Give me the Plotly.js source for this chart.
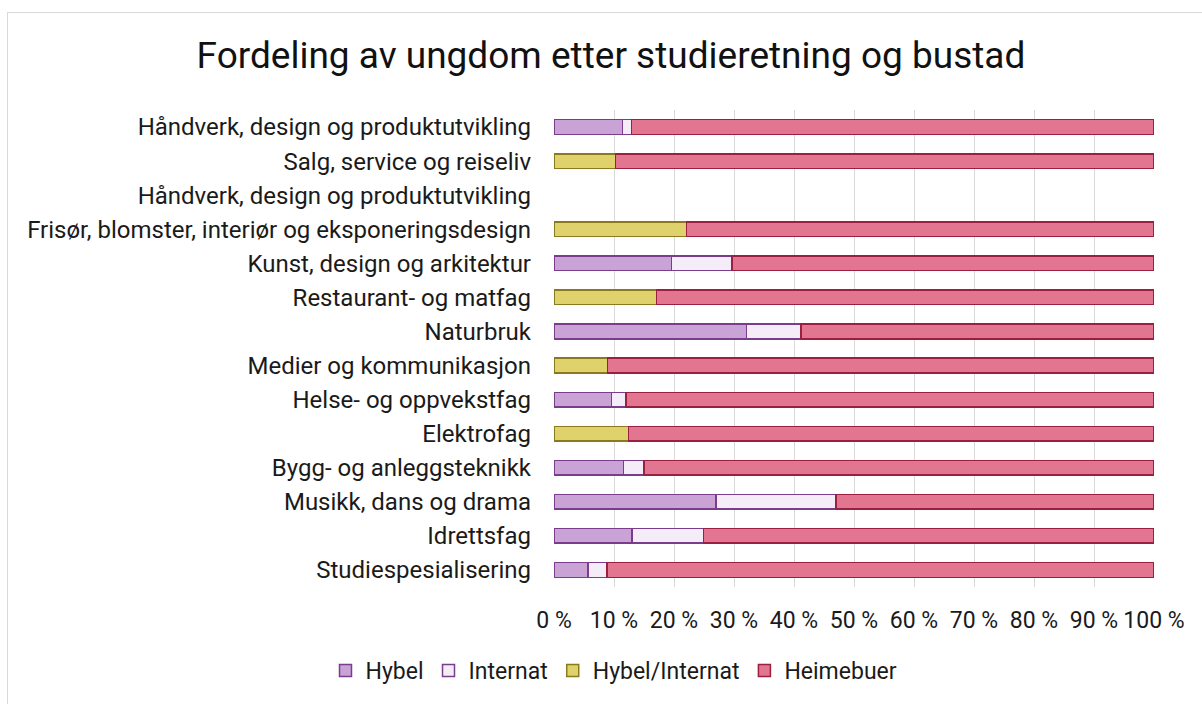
<!DOCTYPE html>
<html>
<head>
<meta charset="utf-8">
<script src="https://cdn.plot.ly/plotly-3.0.1.min.js"></script>
<style>
  html, body { margin: 0; padding: 0; background: #fff; overflow: hidden; width: 1202px; height: 704px; }
  #frame { position: absolute; left: 7px; top: 12px; width: 1300px; height: 800px; border: 1px solid #d9d9d9; background: #fff; }
  #chart { position: absolute; left: 0; top: 0; width: 1194px; height: 691px; }
</style>
</head>
<body>
<div id="frame"><div id="chart"></div></div>
<script>
// Categories, listed bottom to top
const categories = [
  "Studiespesialisering",
  "Idrettsfag",
  "Musikk, dans og drama",
  "Bygg- og anleggsteknikk",
  "Elektrofag",
  "Helse- og oppvekstfag",
  "Medier og kommunikasjon",
  "Naturbruk",
  "Restaurant- og matfag",
  "Kunst, design og arkitektur",
  "Frisør, blomster, interiør og eksponeringsdesign",
  "Håndverk, design og produktutvikling",
  "Salg, service og reiseliv",
  "Håndverk, design og produktutvikling"
];
const hybel          = [5.7, 13.0, 27.0, 11.6, null, 9.6, null, 32.1, null, 19.6, null, null, null, 11.4];
const internat       = [3.1, 11.9, 20.0, 3.4, null, 2.4, null, 9.1, null, 10.1, null, null, null, 1.5];
const hybelInternat  = [null, null, null, null, 12.4, null, 8.9, null, 17.1, null, 22.1, null, 10.25, null];
const heimebuer      = [91.2, 75.1, 53.0, 85.0, 87.6, 88.0, 91.1, 58.8, 82.9, 70.3, 77.9, null, 89.75, 87.1];
const xTickVals   = [0, 10, 20, 30, 40, 50, 60, 70, 80, 90, 100];
const xTickLabels = ["0 %", "10 %", "20 %", "30 %", "40 %", "50 %", "60 %", "70 %", "80 %", "90 %", "100 %"];

const pos = categories.map((_, i) => i);

function tr(name, vals, fill, line) {
  return {
    type: 'bar', orientation: 'h', name: name,
    x: vals, y: pos,
    marker: { color: fill, line: { color: line, width: 1.5 } },
    hoverinfo: 'x+name'
  };
}

const data = [
  tr('Hybel', hybel, '#c9a2d6', '#7a3d8c'),
  tr('Internat', internat, '#f4ecf7', '#7a3d8c'),
  tr('Hybel/Internat', hybelInternat, '#dfd16b', '#8a7a1c'),
  tr('Heimebuer', heimebuer, '#e27590', '#9b1f40')
];

const layout = {
  width: 1194, height: 691,
  barmode: 'stack',
  bargap: 0.57,
  paper_bgcolor: '#fff', plot_bgcolor: '#fff',
  font: { family: 'Roboto, sans-serif', size: 24, color: '#1a1a1a' },
  margin: { l: 546, r: 48, t: 97, b: 115 },
  title: {
    text: 'Fordeling av ungdom etter studieretning og bustad',
    font: { family: 'Roboto, sans-serif', size: 37, color: '#111' },
    xref: 'container', x: 0.505, xanchor: 'center',
    yref: 'container', y: 0.939, yanchor: 'middle'
  },
  xaxis: {
    range: [0, 100], tickvals: xTickVals, ticktext: xTickLabels,
    showgrid: true, gridcolor: '#d9d9d9', gridwidth: 1,
    zeroline: false, showline: false, ticks: '',
    ticklabelstandoff: 17,
    tickfont: { size: 23, color: '#1a1a1a' },
    fixedrange: true
  },
  yaxis: {
    tickvals: pos, ticktext: categories,
    range: [-0.5, categories.length - 0.5],
    showgrid: false, zeroline: false, showline: false, ticks: '',
    ticklabelstandoff: 22,
    tickfont: { size: 24, color: '#1a1a1a' },
    fixedrange: true
  },
  showlegend: true,
  legend: {
    orientation: 'h', traceorder: 'normal',
    x: 0.10, xanchor: 'center', y: -0.175, yanchor: 'middle',
    font: { size: 23, color: '#1a1a1a' },
    itemwidth: 30, tracegroupgap: 0
  }
};

Plotly.newPlot('chart', data, layout, { displayModeBar: false, staticPlot: true });
</script>
</body>
</html>
